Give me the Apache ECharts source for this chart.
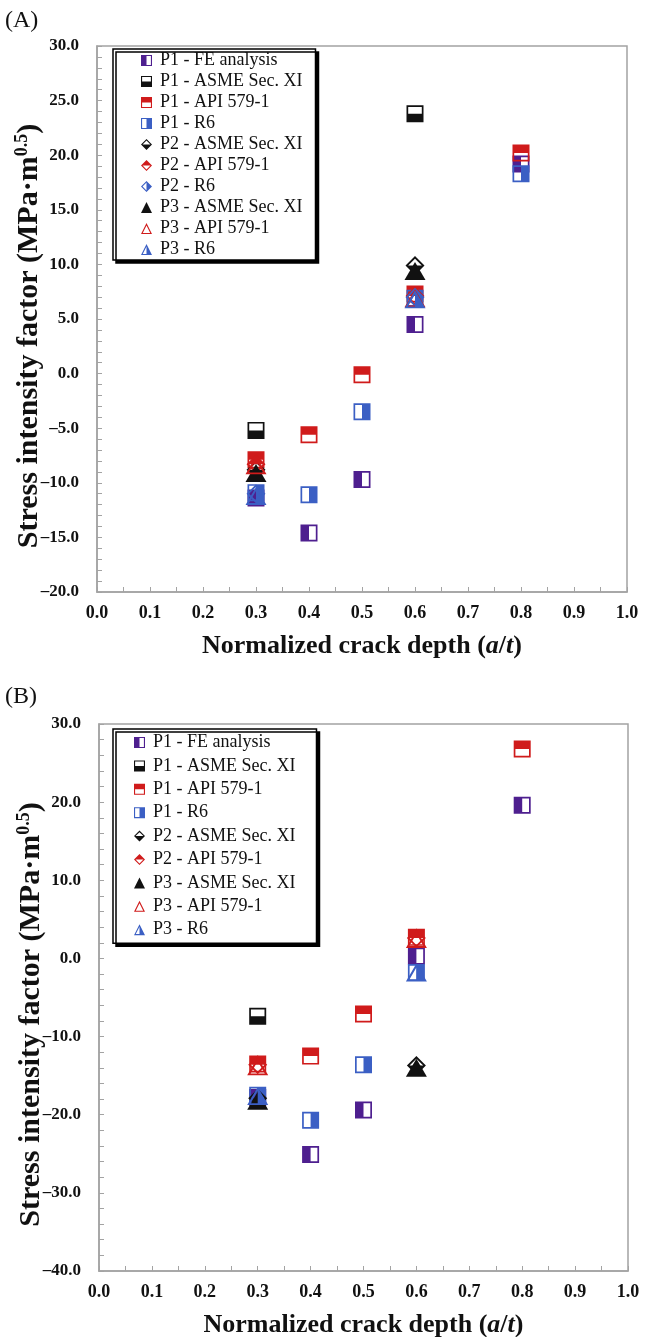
<!DOCTYPE html>
<html>
<head>
<meta charset="utf-8">
<title>Stress intensity factor vs crack depth</title>
<script src="https://cdn.jsdelivr.net/npm/echarts@6/dist/echarts.min.js"></script>
<style>
  * { margin: 0; padding: 0; }
  html, body, #chart { width: 100%; height: 100%; overflow: hidden; background: #fff; }
</style>
</head>
<body>
<div id="chart"></div>
<script>
// crack depth positions
var depths = [0.3, 0.4, 0.5, 0.6, 0.8];

// (A) values, MPa*m^0.5, null = not plotted
var p1FeA   = [-11.4, -14.6, -9.7, 4.5, 19.2];
var p1AsmeA = [-5.2, null, null, 23.8, null];
var p1ApiA  = [-7.9, -5.6, -0.1, 7.3, 20.2];
var p1R6A   = [-10.9, -11.1, -3.5, 6.9, 18.3];
var p2AsmeA = [-8.8, null, null, 9.9, null];
var p2ApiA  = [-8.3, null, null, 7.1, null];
var p2R6A   = [-11.0, null, null, 7.0, null];
var p3AsmeA = [-9.1, null, null, 9.4, null];
var p3ApiA  = [-8.4, null, null, 6.9, null];
var p3R6A   = [-11.2, null, null, 6.8, null];

// (B) values
var p1FeB   = [-17.8, -25.1, -19.4, 0.3, 19.6];
var p1AsmeB = [-7.4, null, null, null, null];
var p1ApiB  = [-13.5, -12.5, -7.1, 2.7, 26.8];
var p1R6B   = [-17.5, -20.7, -13.6, -1.8, null];
var p2AsmeB = [-17.9, null, null, -13.7, null];
var p2ApiB  = [-13.6, null, null, 2.6, null];
var p3AsmeB = [-18.2, null, null, -14.0, null];
var p3ApiB  = [-13.8, null, null, 2.5, null];
var p3R6B   = [-17.6, null, null, -1.8, null];

var serif = '"Liberation Serif", "DejaVu Serif", serif';
var PURPLE = '#4e1f8f', BLACK = '#111', RED = '#d01b1b', BLUE = '#3b5fc4';

// half filled markers: outer shape with a hole where it is white
var SQ = 'M0 0L10 0L10 10L0 10Z';
var DM = 'M5 0L10 5L5 10L0 5Z';
var TR = 'M5 0L10 10L0 10Z';
var sym = {
  sqLeft:   'path://' + SQ + 'M5 1L5 9L9 9L9 1Z',
  sqRight:  'path://' + SQ + 'M1 1L1 9L5 9L5 1Z',
  sqBottom: 'path://' + SQ + 'M1 1L1 5L9 5L9 1Z',
  sqTop:    'path://' + SQ + 'M1 5L1 9L9 9L9 5Z',
  dmBottom: 'path://' + DM + 'M5 1.4L1.4 5L8.6 5Z',
  dmTop:    'path://' + DM + 'M1.4 5L5 8.6L8.6 5Z',
  dmRight:  'path://' + DM + 'M5 1.4L1.4 5L5 8.6Z',
  trFull:   'path://' + TR,
  trHollow: 'path://' + TR + 'M5 2.24L1.62 9L8.38 9Z',
  trRight:  'path://' + TR + 'M5 2.24L1.62 9L5 9Z'
};

var kinds = {
  'P1 - FE analysis':     { symbol: sym.sqLeft,   color: PURPLE, size: 17 },
  'P1 - ASME Sec. XI':    { symbol: sym.sqBottom, color: BLACK,  size: 17 },
  'P1 - API 579-1':       { symbol: sym.sqTop,    color: RED,    size: 17 },
  'P1 - R6':              { symbol: sym.sqRight,  color: BLUE,   size: 17 },
  'P2 - ASME Sec. XI':    { symbol: sym.dmBottom, color: BLACK,  size: 19 },
  'P2 - API 579-1':       { symbol: sym.dmTop,    color: RED,    size: 19 },
  'P2 - R6':              { symbol: sym.dmRight,  color: BLUE,   size: 19 },
  'P3 - ASME Sec. XI':    { symbol: sym.trFull,   color: BLACK,  size: [21, 18] },
  'P3 - API 579-1':       { symbol: sym.trHollow, color: RED,    size: [21, 18] },
  'P3 - R6':              { symbol: sym.trRight,  color: BLUE,   size: [21, 18] }
};

var setA = [
  ['P1 - FE analysis', p1FeA], ['P1 - ASME Sec. XI', p1AsmeA], ['P1 - API 579-1', p1ApiA],
  ['P1 - R6', p1R6A], ['P2 - ASME Sec. XI', p2AsmeA], ['P2 - API 579-1', p2ApiA],
  ['P2 - R6', p2R6A], ['P3 - ASME Sec. XI', p3AsmeA], ['P3 - API 579-1', p3ApiA],
  ['P3 - R6', p3R6A]
];
var setB = [
  ['P1 - FE analysis', p1FeB], ['P1 - ASME Sec. XI', p1AsmeB], ['P1 - API 579-1', p1ApiB],
  ['P1 - R6', p1R6B], ['P2 - ASME Sec. XI', p2AsmeB], ['P2 - API 579-1', p2ApiB],
  ['P3 - ASME Sec. XI', p3AsmeB], ['P3 - API 579-1', p3ApiB], ['P3 - R6', p3R6B]
];

function toSeries(set, idx) {
  return set.map(function (s) {
    var k = kinds[s[0]];
    var pts = [];
    depths.forEach(function (x, i) { if (s[1][i] != null) pts.push([x, s[1][i]]); });
    return {
      type: 'scatter', name: s[0], xAxisIndex: idx, yAxisIndex: idx,
      symbol: k.symbol, symbolSize: k.size, symbolKeepAspect: false,
      itemStyle: { color: k.color, opacity: 1 },
      data: pts, z: 3
    };
  });
}

function legendData(set) {
  return set.map(function (s) { return { name: s[0], icon: kinds[s[0]].symbol }; });
}

function fmt(v) {
  return v < 0 ? '\u2013' + Math.abs(v).toFixed(1) : v.toFixed(1);
}

var GREY = '#a3a3a3';

function xAxis(idx) {
  return {
    type: 'value', gridIndex: idx, min: 0, max: 1, interval: 0.1,
    axisLine: { show: true, onZero: false, lineStyle: { color: GREY, width: 1.5 } },
    axisTick: { show: true, inside: true, length: 5, lineStyle: { color: GREY } },
    minorTick: { show: true, splitNumber: 2, length: 5, lineStyle: { color: GREY } },
    splitLine: { show: false },
    axisLabel: { formatter: fmt, margin: 12, color: '#111', fontFamily: serif, fontWeight: 'bold', fontSize: 18 },
    name: 'Normalized crack depth ({i|a}/{i|t})', nameLocation: 'middle', nameGap: 41,
    nameMoveOverlap: false,
    nameTextStyle: {
      color: '#111', fontFamily: serif, fontWeight: 'bold', fontSize: 26,
      rich: { i: { fontFamily: serif, fontWeight: 'bold', fontStyle: 'italic', fontSize: 26, color: '#111' } }
    }
  };
}

function yAxis(idx, min, max, interval) {
  return {
    type: 'value', gridIndex: idx, min: min, max: max, interval: interval,
    axisLine: { show: true, onZero: false, lineStyle: { color: GREY, width: 1.5 } },
    axisTick: { show: true, inside: true, length: 5, lineStyle: { color: GREY } },
    minorTick: { show: true, splitNumber: 5, length: 5, lineStyle: { color: GREY } },
    splitLine: { show: false },
    axisLabel: { formatter: fmt, margin: 18, color: '#111', fontFamily: serif, fontWeight: 'bold', fontSize: 17 },
    name: 'Stress intensity factor (MPa\u00b7m{sup|0.5})', nameLocation: 'middle', nameGap: 52,
    nameMoveOverlap: false,
    nameTextStyle: {
      color: '#111', fontFamily: serif, fontWeight: 'bold', fontSize: 30, padding: [0, 34, 0, 0],
      rich: { sup: { fontFamily: serif, fontWeight: 'bold', fontSize: 18, color: '#111', padding: [0, 0, 14, 0] } }
    }
  };
}

function legend(top, set, gap, pad) {
  return {
    orient: 'vertical', left: 113, top: top,
    data: legendData(set),
    itemWidth: 11, itemHeight: 11, itemGap: gap,
    padding: pad,
    backgroundColor: '#fff', borderColor: '#000', borderWidth: 1.5, borderRadius: 0,
    shadowColor: '#000', shadowBlur: 0, shadowOffsetX: 3, shadowOffsetY: 3,
    selectedMode: false,
    textStyle: { fontFamily: serif, fontSize: 18, color: '#111', lineHeight: 21, padding: [0, 0, 0, 3] }
  };
}

var option = {
  animation: false,
  backgroundColor: '#fff',
  title: [
    { text: '(A)', left: 0, top: 4, textStyle: { fontFamily: serif, fontWeight: 'normal', fontSize: 24, color: '#111' } },
    { text: '(B)', left: 0, top: 680, textStyle: { fontFamily: serif, fontWeight: 'normal', fontSize: 24, color: '#111' } }
  ],
  grid: [
    { left: 97, top: 46, width: 530, height: 546, show: true, borderColor: GREY, borderWidth: 1.5, outerBoundsMode: 'none' },
    { left: 99, top: 724, width: 529, height: 547, show: true, borderColor: GREY, borderWidth: 1.5, outerBoundsMode: 'none' }
  ],
  xAxis: [xAxis(0), xAxis(1)],
  yAxis: [yAxis(0, -20, 30, 5), yAxis(1, -40, 30, 10)],
  legend: [
    legend(49, setA, 0, [1, 13, 0, 28]),
    legend(729, setB, 2.4, [3, 21, 3, 21])
  ],
  series: toSeries(setA, 0).concat(toSeries(setB, 1))
};

var chart = echarts.init(document.getElementById('chart'));
chart.setOption(option);
</script>
</body>
</html>
